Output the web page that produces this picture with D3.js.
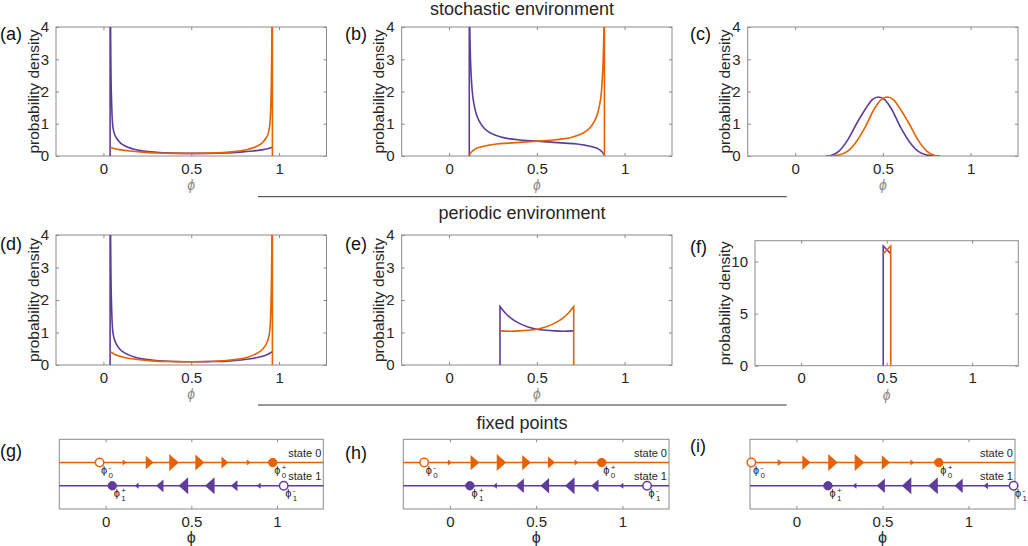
<!DOCTYPE html>
<html>
<head>
<meta charset="utf-8">
<script src="https://cdn.jsdelivr.net/npm/d3@7"></script>
<style>
    body { margin: 0; background: #fff; }
    svg { display: block; }
    text { font-family: "Liberation Sans", Arial, Helvetica, sans-serif; }
</style>
</head>
<body>
<svg id="chart" width="1028" height="546"></svg>
<script>

// ---- data ----
const xTickValues = [0, 0.5, 1];
const xTickLabels = ['0', '0.5', '1'];
const densityTicks = [0, 1, 2, 3, 4];
const peakTicks = [0, 5, 10];
const sectionTitles = ['stochastic environment', 'periodic environment', 'fixed points'];
const panelLetters = ['(a)', '(b)', '(c)', '(d)', '(e)', '(f)', '(g)', '(h)', '(i)'];
const stateLabels = ['state 0', 'state 1'];

// stationary densities, [phi, density]; state 1 = purple, state 0 = orange
const aState1 = [[0.038, 9], [0.040, 4.5], [0.043, 2.6], [0.047, 1.6], [0.053, 0.95], [0.062, 0.7], [0.075, 0.55], [0.09, 0.44], [0.11, 0.35], [0.14, 0.27], [0.18, 0.2], [0.23, 0.15], [0.3, 0.115], [0.4, 0.09], [0.5, 0.08], [0.6, 0.082], [0.7, 0.095], [0.78, 0.12], [0.85, 0.155], [0.9, 0.19], [0.94, 0.23], [0.962, 0.27]];
const aState0 = [[0.038, 0.27], [0.06, 0.23], [0.1, 0.19], [0.15, 0.155], [0.22, 0.12], [0.3, 0.095], [0.4, 0.082], [0.5, 0.08], [0.6, 0.09], [0.7, 0.115], [0.77, 0.15], [0.82, 0.2], [0.86, 0.27], [0.89, 0.35], [0.91, 0.44], [0.925, 0.55], [0.938, 0.7], [0.947, 0.95], [0.953, 1.6], [0.957, 2.6], [0.96, 4.5], [0.962, 9]];

const bState1 = [[0.115, 9], [0.117, 4.5], [0.12, 3.4], [0.125, 2.6], [0.132, 2.0], [0.142, 1.6], [0.155, 1.3], [0.175, 1.05], [0.2, 0.86], [0.24, 0.7], [0.29, 0.6], [0.35, 0.53], [0.42, 0.49], [0.5, 0.46], [0.58, 0.43], [0.66, 0.4], [0.73, 0.37], [0.78, 0.33], [0.82, 0.28], [0.85, 0.22], [0.87, 0.14], [0.885, 0.03]];
const bState0 = [[0.115, 0.03], [0.13, 0.14], [0.15, 0.22], [0.18, 0.28], [0.22, 0.33], [0.27, 0.37], [0.34, 0.4], [0.42, 0.43], [0.5, 0.46], [0.58, 0.49], [0.65, 0.53], [0.71, 0.6], [0.76, 0.7], [0.8, 0.86], [0.825, 1.05], [0.845, 1.3], [0.858, 1.6], [0.868, 2.0], [0.875, 2.6], [0.88, 3.4], [0.883, 4.5], [0.885, 9]];

const cState1 = [[0.175, 0], [0.2, 0.01], [0.25, 0.15], [0.3, 0.5], [0.35, 1.0], [0.4, 1.45], [0.44, 1.75], [0.475, 1.83], [0.51, 1.75], [0.55, 1.45], [0.6, 0.9], [0.65, 0.45], [0.7, 0.15], [0.75, 0.03], [0.8, 0.002], [0.825, 0]];
const cState0 = [[0.175, 0], [0.2, 0.002], [0.25, 0.03], [0.3, 0.15], [0.35, 0.45], [0.4, 0.9], [0.45, 1.45], [0.49, 1.75], [0.525, 1.83], [0.56, 1.75], [0.6, 1.45], [0.65, 1.0], [0.7, 0.5], [0.75, 0.15], [0.8, 0.01], [0.825, 0]];

const dState1 = [[0.038, 9], [0.040, 4.5], [0.043, 2.7], [0.047, 1.7], [0.053, 1.05], [0.062, 0.8], [0.075, 0.63], [0.09, 0.51], [0.11, 0.41], [0.14, 0.32], [0.18, 0.24], [0.23, 0.18], [0.3, 0.14], [0.4, 0.11], [0.5, 0.1], [0.6, 0.105], [0.7, 0.12], [0.78, 0.155], [0.85, 0.2], [0.9, 0.26], [0.94, 0.34], [0.962, 0.41]];
const dState0 = [[0.038, 0.41], [0.06, 0.34], [0.1, 0.26], [0.15, 0.2], [0.22, 0.155], [0.3, 0.12], [0.4, 0.105], [0.5, 0.1], [0.6, 0.11], [0.7, 0.14], [0.77, 0.18], [0.82, 0.24], [0.86, 0.32], [0.89, 0.41], [0.91, 0.51], [0.925, 0.63], [0.938, 0.8], [0.947, 1.05], [0.953, 1.7], [0.957, 2.7], [0.96, 4.5], [0.962, 9]];

const eState1 = [[0.29, 1.8], [0.32, 1.6], [0.35, 1.45], [0.4, 1.28], [0.45, 1.17], [0.5, 1.1], [0.55, 1.07], [0.6, 1.05], [0.65, 1.04], [0.71, 1.05]];
const eState0 = [[0.29, 1.05], [0.35, 1.04], [0.4, 1.05], [0.45, 1.07], [0.5, 1.1], [0.55, 1.17], [0.6, 1.28], [0.65, 1.45], [0.68, 1.6], [0.71, 1.8]];

const fState1 = [[0.48, 11.5], [0.524, 10.75]];
const fState0 = [[0.48, 10.75], [0.524, 11.5]];

// fixed points: [state 0, state 1]
const gUnstable = [-0.035, 1.039];
const gStable = [0.975, 0.039];
const hUnstable = [-0.149, 1.143];
const hStable = [0.88, 0.116];
const iUnstable = [-0.262, 1.262];
const iStable = [0.827, 0.183];

// flow arrows along each state line, with relative speed
const gArrows0 = [0.111, 0.257, 0.399, 0.55, 0.696, 0.835];
const gSpeed0 = [0.35, 0.8, 1.0, 0.95, 0.7, 0.35];
const gArrows1 = [0.181, 0.316, 0.454, 0.608, 0.75, 0.893];
const gSpeed1 = [0.35, 0.75, 1.0, 1.0, 0.65, 0.35];
const hArrows0 = [0, 0.145, 0.299, 0.444, 0.589, 0.734];
const hSpeed0 = [0.35, 0.9, 1.0, 0.9, 0.7, 0.35];
const hArrows1 = [0.261, 0.405, 0.55, 0.695, 0.84, 0.994];
const hSpeed1 = [0.35, 0.85, 0.9, 1.0, 0.75, 0.35];
const iArrows0 = [-0.096, 0.058, 0.212, 0.366, 0.52, 0.673];
const iSpeed0 = [0.4, 0.85, 1.0, 1.0, 0.85, 0.35];
const iArrows1 = [0.337, 0.49, 0.64, 0.794, 0.942, 1.1];
const iSpeed1 = [0.35, 0.85, 1.0, 1.0, 0.85, 0.4];

// ---- style ----
const ORANGE = '#e66101';
const PURPLE = '#5e3c99';
const AXIS_COLOR = '#8a8a8a';
const TEXT_COLOR = '#262626';
const X_DOMAIN = [-0.27, 1.27];

const svg = d3.select('#chart');

function styleAxis(g, fontSize) {
    g.attr('font-family', '"Liberation Sans", Arial, sans-serif')
        .attr('font-size', fontSize);
    g.select('.domain').remove();
    g.selectAll('.tick line').attr('stroke', AXIS_COLOR);
    g.selectAll('.tick text').attr('fill', TEXT_COLOR);
}

function drawFrame(box, x, y, yTicks, clipId) {

    const g = svg.append('g');

    g.append('clipPath')
        .attr('id', clipId)
        .append('rect')
        .attr('x', box.x0)
        .attr('y', box.y0)
        .attr('width', box.x1 - box.x0)
        .attr('height', box.y1 - box.y0);

    g.append('g')
        .attr('transform', `translate(0,${box.y1})`)
        .call(d3.axisBottom(x).tickValues(xTickValues)
            .tickFormat((d, i) => xTickLabels[i]).tickSize(-3).tickPadding(7))
        .call(a => styleAxis(a, 15));

    g.append('g')
        .attr('transform', `translate(0,${box.y0})`)
        .call(d3.axisTop(x).tickValues(xTickValues).tickFormat('').tickSize(-3))
        .call(a => styleAxis(a, 15));

    if (yTicks) {
        g.append('g')
            .attr('transform', `translate(${box.x0},0)`)
            .call(d3.axisLeft(y).tickValues(yTicks).tickFormat(d3.format('d'))
                .tickSize(-3).tickPadding(7))
            .call(a => styleAxis(a, 15));

        g.append('g')
            .attr('transform', `translate(${box.x1},0)`)
            .call(d3.axisRight(y).tickValues(yTicks).tickFormat('').tickSize(-3))
            .call(a => styleAxis(a, 15));
    }

    g.append('rect')
        .attr('x', box.x0)
        .attr('y', box.y0)
        .attr('width', box.x1 - box.x0)
        .attr('height', box.y1 - box.y0)
        .attr('fill', 'none')
        .attr('stroke', AXIS_COLOR)
        .attr('stroke-width', 1);

    return g;
}

function densityPanel({box, yMax, yTicks, state1, state0, clipId, labelX}) {

    const x = d3.scaleLinear().domain(X_DOMAIN).range([box.x0, box.x1]);
    const y = d3.scaleLinear().domain([0, yMax]).range([box.y1, box.y0]);

    const g = drawFrame(box, x, y, yTicks, clipId);

    const line = d3.line()
        .x(d => x(d[0]))
        .y(d => y(d[1]))
        .curve(d3.curveMonotoneX);

    // state 1 drops to zero at its first point, state 0 at its last point
    const first = state1[0];
    const path1 = `M${x(first[0])},${y(0)}L` + line(state1).slice(1);
    const last = state0[state0.length - 1];
    const path0 = line(state0) + `L${x(last[0])},${y(0)}`;

    const curves = g.append('g').attr('clip-path', `url(#${clipId})`);

    curves.append('path')
        .attr('d', path1)
        .attr('fill', 'none')
        .attr('stroke', PURPLE)
        .attr('stroke-width', 1.6);

    curves.append('path')
        .attr('d', path0)
        .attr('fill', 'none')
        .attr('stroke', ORANGE)
        .attr('stroke-width', 1.6);

    g.append('text')
        .attr('transform', `translate(${labelX},${(box.y0 + box.y1) / 2}) rotate(-90)`)
        .attr('text-anchor', 'middle')
        .attr('font-size', 15.5)
        .attr('fill', TEXT_COLOR)
        .text('probability density');

    g.append('text')
        .attr('x', (box.x0 + box.x1) / 2)
        .attr('y', box.y1 + 34)
        .attr('text-anchor', 'middle')
        .attr('font-family', '"DejaVu Serif", serif')
        .attr('font-style', 'italic')
        .attr('font-size', 14)
        .attr('fill', '#8a8a8a')
        .text('\u03d5');
}

function phiLabel(g, px, py, sub, sup) {
    const t = g.append('g').attr('fill', TEXT_COLOR);
    t.append('text')
        .attr('x', px)
        .attr('y', py)
        .attr('font-family', '"DejaVu Sans", sans-serif')
        .attr('font-size', 11)
        .text('\u03d5');
    t.append('text')
        .attr('x', px + 7.5)
        .attr('y', py - 4)
        .attr('font-size', 8)
        .text(sup);
    t.append('text')
        .attr('x', px + 7.5)
        .attr('y', py + 4)
        .attr('font-size', 8)
        .text(sub);
}

function fixedPanel({box, unstable, stable, arrows0, speed0, arrows1, speed1, clipId}) {

    const x = d3.scaleLinear().domain(X_DOMAIN).range([box.x0, box.x1]);
    const y = d3.scaleLinear().domain([0, 3]).range([box.y1, box.y0]);
    const size = d3.scaleLinear().domain([0, 1]).range([0, 17]);

    const g = drawFrame(box, x, y, null, clipId);

    const states = [
        {level: 2, color: ORANGE, dir: 1, arrows: arrows0, speed: speed0, sub: '0'},
        {level: 1, color: PURPLE, dir: -1, arrows: arrows1, speed: speed1, sub: '1'}
    ];

    states.forEach((s, k) => {

        const ly = y(s.level);

        g.append('line')
            .attr('x1', box.x0)
            .attr('x2', box.x1)
            .attr('y1', ly)
            .attr('y2', ly)
            .attr('stroke', s.color)
            .attr('stroke-width', 1.6);

        g.append('g')
            .selectAll('path')
            .data(s.arrows.map((a, i) => [a, s.speed[i]]))
            .join('path')
            .attr('d', ([a, v]) => {
                const h = size(v);
                const w = 0.5 * h + 1;
                const cx = x(a);
                return `M${cx + s.dir * w / 2},${ly}L${cx - s.dir * w / 2},${ly - h / 2}L${cx - s.dir * w / 2},${ly + h / 2}Z`;
            })
            .attr('fill', s.color);

        g.append('text')
            .attr('x', box.x1 - 2)
            .attr('y', ly - 5.5)
            .attr('text-anchor', 'end')
            .attr('font-size', 11)
            .attr('fill', TEXT_COLOR)
            .text(stateLabels[k]);

        const ux = x(unstable[k]);
        const sx = x(stable[k]);

        g.append('circle')
            .attr('cx', ux)
            .attr('cy', ly)
            .attr('r', 4.2)
            .attr('fill', '#fff')
            .attr('stroke', s.color)
            .attr('stroke-width', 1.5);

        g.append('circle')
            .attr('cx', sx)
            .attr('cy', ly)
            .attr('r', 4.2)
            .attr('fill', s.color)
            .attr('stroke', s.color)
            .attr('stroke-width', 1);

        phiLabel(g, ux + 1.5, ly + 11, s.sub, '-');
        phiLabel(g, sx + 1.5, ly + 11, s.sub, '+');
    });

    g.append('text')
        .attr('x', (box.x0 + box.x1) / 2)
        .attr('y', box.y1 + 34)
        .attr('text-anchor', 'middle')
        .attr('font-family', '"DejaVu Sans", sans-serif')
        .attr('font-size', 16)
        .attr('fill', TEXT_COLOR)
        .text('\u03d5');
}

// ---- layout ----
const row1 = {y0: 27, y1: 156};
const row2 = {y0: 235, y1: 365};
const row3 = {y0: 439.3, y1: 509};

densityPanel({box: {x0: 56, x1: 326.5, ...row1}, yMax: 4, yTicks: densityTicks, state1: aState1, state0: aState0, clipId: 'clip-a', labelX: 38.5});
densityPanel({box: {x0: 401.7, x1: 672, ...row1}, yMax: 4, yTicks: densityTicks, state1: bState1, state0: bState0, clipId: 'clip-b', labelX: 384});
densityPanel({box: {x0: 747.7, x1: 1018, ...row1}, yMax: 4, yTicks: densityTicks, state1: cState1, state0: cState0, clipId: 'clip-c', labelX: 730});

densityPanel({box: {x0: 56, x1: 326.5, ...row2}, yMax: 4, yTicks: densityTicks, state1: dState1, state0: dState0, clipId: 'clip-d', labelX: 38.5});
densityPanel({box: {x0: 401.7, x1: 672, ...row2}, yMax: 4, yTicks: densityTicks, state1: eState1, state0: eState0, clipId: 'clip-e', labelX: 384});
densityPanel({box: {x0: 755, x1: 1018.3, y0: 240.7, y1: 365.7}, yMax: 12, yTicks: peakTicks, state1: fState1, state0: fState0, clipId: 'clip-f', labelX: 730});

fixedPanel({box: {x0: 59.3, x1: 323.3, ...row3}, unstable: gUnstable, stable: gStable, arrows0: gArrows0, speed0: gSpeed0, arrows1: gArrows1, speed1: gSpeed1, clipId: 'clip-g'});
fixedPanel({box: {x0: 403.3, x1: 669, ...row3}, unstable: hUnstable, stable: hStable, arrows0: hArrows0, speed0: hSpeed0, arrows1: hArrows1, speed1: hSpeed1, clipId: 'clip-h'});
fixedPanel({box: {x0: 750, x1: 1015, ...row3}, unstable: iUnstable, stable: iStable, arrows0: iArrows0, speed0: iSpeed0, arrows1: iArrows1, speed1: iSpeed1, clipId: 'clip-i'});

// section titles and separators
const titleY = [14.5, 218.5, 428.5];
sectionTitles.forEach((t, i) => {
    svg.append('text')
        .attr('x', 522)
        .attr('y', titleY[i])
        .attr('text-anchor', 'middle')
        .attr('font-size', 18)
        .attr('fill', TEXT_COLOR)
        .text(t);
});

[196.7, 405].forEach(ly => {
    svg.append('line')
        .attr('x1', 258)
        .attr('x2', 786.7)
        .attr('y1', ly)
        .attr('y2', ly)
        .attr('stroke', '#333')
        .attr('stroke-width', 1);
});

// panel letters
const letterPos = [[0, 40], [345, 40], [690, 40], [0, 250], [345, 250], [690, 253], [0, 457], [345, 459], [690, 452]];
panelLetters.forEach((l, i) => {
    svg.append('text')
        .attr('x', letterPos[i][0])
        .attr('y', letterPos[i][1])
        .attr('font-size', 18)
        .attr('font-family', i === 6 ? '"Liberation Serif", serif' : null)
        .attr('fill', '#111')
        .text(l);
});

</script>
</body>
</html>
